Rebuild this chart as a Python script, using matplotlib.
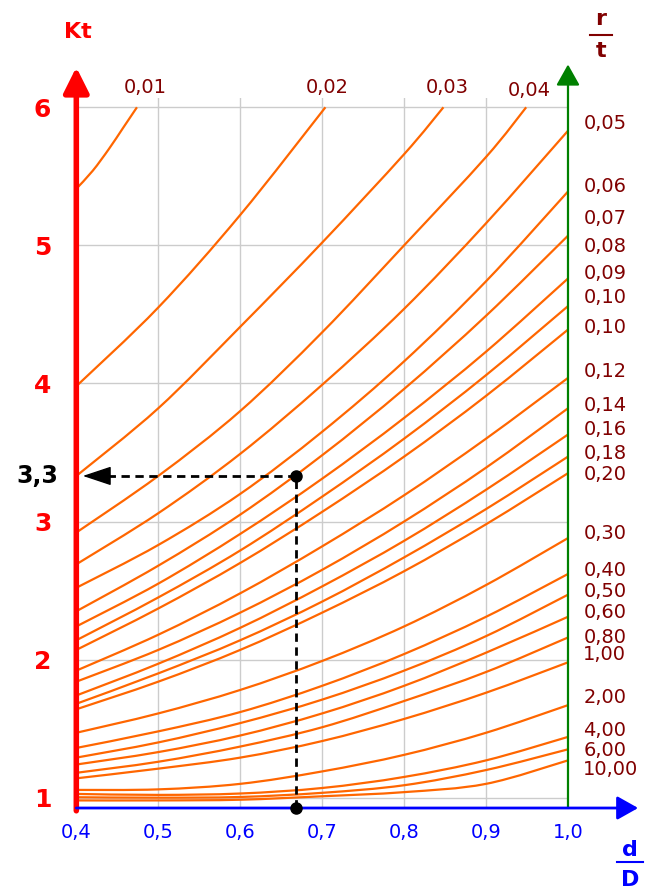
import matplotlib
matplotlib.use("Agg")
import matplotlib.pyplot as plt
from matplotlib.path import Path
from matplotlib.patches import PathPatch

dD = [0.4, 0.5, 0.6, 0.7, 0.8, 0.9, 1.0]

# curves that leave through the top (Kt = 6), each with its own d/D points
top_x = [
    [0.4, 0.42, 0.44, 0.457, 0.474],
    [0.4, 0.5, 0.6, 0.704],
    [0.4, 0.5, 0.6, 0.7, 0.8, 0.848],
    [0.4, 0.5, 0.6, 0.7, 0.8, 0.9, 0.949],
]
top_kt = [
    [5.41, 5.54, 5.70, 5.85, 6.0],
    [3.98, 4.55, 5.22, 6.0],
    [3.33, 3.82, 4.41, 5.02, 5.66, 6.0],
    [2.92, 3.33, 3.80, 4.37, 5.00, 5.64, 6.0],
]
top_names = ["0,01", "0,02", "0,03", "0,04"]

# curves reaching d/D = 1, Kt at each value of dD
kt_side = [
    [2.69, 3.06, 3.49, 3.99, 4.54, 5.16, 5.83],
    [2.52, 2.83, 3.20, 3.65, 4.16, 4.74, 5.39],
    [2.35, 2.68, 3.05, 3.48, 3.96, 4.49, 5.07],
    [2.24, 2.55, 2.91, 3.31, 3.75, 4.23, 4.76],
    [2.14, 2.45, 2.79, 3.18, 3.60, 4.06, 4.56],
    [2.07, 2.37, 2.70, 3.07, 3.47, 3.91, 4.39],
    [1.92, 2.18, 2.48, 2.82, 3.19, 3.60, 4.04],
    [1.84, 2.07, 2.34, 2.65, 3.00, 3.39, 3.82],
    [1.74, 1.97, 2.23, 2.53, 2.86, 3.23, 3.63],
    [1.68, 1.90, 2.14, 2.42, 2.74, 3.09, 3.47],
    [1.64, 1.84, 2.07, 2.34, 2.64, 2.98, 3.35],
    [1.47, 1.61, 1.78, 1.99, 2.24, 2.54, 2.88],
    [1.36, 1.48, 1.62, 1.81, 2.04, 2.31, 2.62],
    [1.29, 1.40, 1.54, 1.71, 1.92, 2.17, 2.47],
    [1.24, 1.33, 1.45, 1.61, 1.81, 2.05, 2.31],
    [1.18, 1.26, 1.37, 1.51, 1.70, 1.91, 2.16],
    [1.14, 1.21, 1.29, 1.41, 1.57, 1.76, 1.98],
    [1.056, 1.06, 1.10, 1.19, 1.31, 1.47, 1.67],
    [1.027, 1.02, 1.03, 1.07, 1.15, 1.27, 1.44],
    [1.003, 1.00, 1.005, 1.035, 1.09, 1.20, 1.35],
    [0.98, 0.98, 0.985, 1.01, 1.04, 1.10, 1.27],
]
side_names = ["0,05", "0,06", "0,07", "0,08", "0,09", "0,10", "0,10", "0,12",
              "0,14", "0,16", "0,18", "0,20", "0,30", "0,40", "0,50", "0,60",
              "0,80", "1,00", "2,00", "4,00", "6,00", "10,00"]

x_ticks = [0.4, 0.5, 0.6, 0.7, 0.8, 0.9, 1.0]
x_labels = ["0,4", "0,5", "0,6", "0,7", "0,8", "0,9", "1,0"]
y_ticks = [1, 2, 3, 4, 5, 6]

# example reading
ex_dD = 0.668
ex_kt = 3.33

# label placement
top_lbl_x = [0.484, 0.7065, 0.853, 0.953]
top_lbl_kt = [6.14, 6.14, 6.14, 6.12]
side_lbl_kt = [5.884, 5.425, 5.191, 4.990, 4.798, 4.623, 4.404, 4.085, 3.838,
               3.663, 3.494, 3.337, 2.915, 2.643, 2.492, 2.338, 2.160, 2.034,
               1.726, 1.485, 1.345, 1.206]

ORANGE = "#ff6600"
MAROON = "#800000"
YMIN, YMAX = 0.925, 6.07


def smooth_curve(ax, xs, ys, **kw):
    # bezier path through the read points (catmull-rom control points)
    pts = list(zip(xs, ys))
    verts = [pts[0]]
    codes = [Path.MOVETO]
    n = len(pts)
    for i in range(n - 1):
        p0 = pts[max(i - 1, 0)]
        p1 = pts[i]
        p2 = pts[i + 1]
        p3 = pts[min(i + 2, n - 1)]
        c1 = (p1[0] + (p2[0] - p0[0]) / 6, p1[1] + (p2[1] - p0[1]) / 6)
        c2 = (p2[0] - (p3[0] - p1[0]) / 6, p2[1] - (p3[1] - p1[1]) / 6)
        verts += [c1, c2, p2]
        codes += [Path.CURVE4] * 3
    ax.add_patch(PathPatch(Path(verts, codes), fill=False, **kw))


fig = plt.figure(figsize=(6.59, 8.89), dpi=100)
ax = fig.add_axes([0.1158, 0.0911, 0.7461, 0.7991])
ax.set_xlim(0.4, 1.0)
ax.set_ylim(YMIN, YMAX)
for s in ax.spines.values():
    s.set_visible(False)

ax.set_xticks(x_ticks)
ax.set_xticklabels(x_labels)
ax.set_yticks(y_ticks)
ax.set_yticklabels([str(v) for v in y_ticks])
ax.tick_params(axis="x", length=0, pad=10.5, labelsize=14, labelcolor="#0000ff")
ax.tick_params(axis="y", length=0, pad=18, labelsize=18, labelcolor="#ff0000")
for t in ax.get_yticklabels():
    t.set_fontweight("bold")
ax.grid(True, color="#cccccc", lw=1)
ax.set_axisbelow(True)

for xs, ks in zip(top_x, top_kt):
    smooth_curve(ax, xs, ks, edgecolor=ORANGE, lw=1.6, clip_on=False)
for ks in kt_side:
    smooth_curve(ax, dD, ks, edgecolor=ORANGE, lw=1.6)

for name, x, k in zip(top_names, top_lbl_x, top_lbl_kt):
    ax.text(x, k, name, color=MAROON, fontsize=14, ha="center", va="center")
for name, k in zip(side_names, side_lbl_kt):
    ax.text(1.0187, k, name, color=MAROON, fontsize=14, ha="left", va="center")

# axes drawn as arrows
arr = dict(shrinkA=0, shrinkB=0)
ax.annotate("", xy=(0.4, 6.29), xytext=(0.4, YMIN - 0.02), annotation_clip=False,
            arrowprops=dict(arrowstyle="-|>,head_length=0.7,head_width=0.35",
                            color="#ff0000", lw=4, mutation_scale=22, **arr))
ax.annotate("", xy=(1.0, 6.31), xytext=(1.0, YMIN), annotation_clip=False,
            arrowprops=dict(arrowstyle="-|>,head_length=0.8,head_width=0.45",
                            color="#008000", lw=1.6, mutation_scale=16, **arr))
ax.annotate("", xy=(1.0856, YMIN), xytext=(0.4, YMIN), annotation_clip=False,
            arrowprops=dict(arrowstyle="-|>,head_length=0.8,head_width=0.45",
                            color="#0000ff", lw=2, mutation_scale=16, **arr))

# example reading: dashed guide lines with a solid arrow head
ax.plot([ex_dD, ex_dD], [YMIN, ex_kt], color="black", lw=2, ls=(0, (3, 2)), clip_on=False)
ax.plot([ex_dD, 0.425], [ex_kt, ex_kt], color="black", lw=2, ls=(0, (3, 2)))
ax.annotate("", xy=(0.408, ex_kt), xytext=(0.436, ex_kt), annotation_clip=False,
            arrowprops=dict(arrowstyle="-|>,head_length=0.9,head_width=0.3",
                            color="black", lw=1, mutation_scale=20, **arr))
ax.plot([ex_dD, ex_dD], [YMIN, ex_kt], "o", color="black", ms=8, clip_on=False, zorder=5)
ax.text(0.3526, ex_kt, "3,3", color="black", fontsize=17, fontweight="bold",
        ha="center", va="center")

# axis titles
fig.text(78 / 659, 1 - 32 / 889, "Kt", color="#ff0000", fontsize=16,
         fontweight="bold", ha="center", va="center")
fig.text(601 / 659, 1 - 19 / 889, "r", color=MAROON, fontsize=16,
         fontweight="bold", ha="center", va="center")
fig.text(601 / 659, 1 - 51 / 889, "t", color=MAROON, fontsize=16,
         fontweight="bold", ha="center", va="center")
fig.add_artist(plt.Line2D([590 / 659, 612 / 659], [1 - 35 / 889, 1 - 35 / 889],
                          color=MAROON, lw=1.5))
fig.text(630 / 659, 1 - 856 / 889, "d", color="#0000ff", fontsize=16,
         fontweight="bold", ha="center", va="baseline")
fig.text(630 / 659, 1 - 886 / 889, "D", color="#0000ff", fontsize=16,
         fontweight="bold", ha="center", va="baseline")
fig.add_artist(plt.Line2D([617 / 659, 643 / 659], [1 - 862 / 889, 1 - 862 / 889],
                          color="#0000ff", lw=1.5))

fig.savefig("out.png", dpi=100)
